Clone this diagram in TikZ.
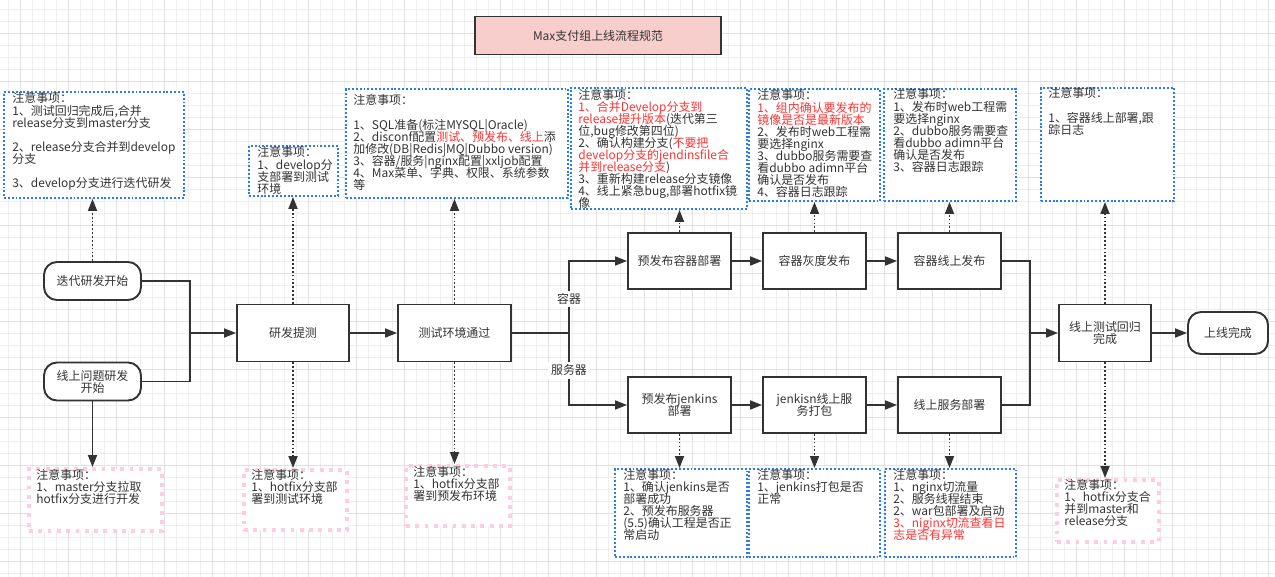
\documentclass[tikz,border=0pt]{standalone}
\usepackage{fontspec}
\setmainfont{Noto Sans CJK SC}
\usetikzlibrary{arrows.meta,positioning}
\setlength{\lineskiplimit}{-5pt}
\definecolor{mxGrey}  {RGB}{ 51, 51, 51}
\definecolor{mxText}  {RGB}{ 51, 51, 51}
\definecolor{mxRed}   {RGB}{255, 51, 51}
\definecolor{mxBlue}  {RGB}{ 45,125,230}
\definecolor{mxPink}  {RGB}{255,204,228}
\definecolor{mxTitle} {RGB}{248,206,204}
\definecolor{mxGridL} {RGB}{238,238,238}
\definecolor{mxGridD} {RGB}{224,224,224}

\begin{document}
\begin{tikzpicture}[
  every node/.style={font=\fontsize{6.8}{6.85}\selectfont,text=mxText},
  >={Triangle[length=2.4mm,width=1.8mm]},
  proc/.style ={draw=mxGrey,fill=white,line width=1.1pt,align=center,
               minimum width=2.06cm,minimum height=1.12cm},
  term/.style ={draw=mxGrey,fill=white,line width=1.1pt,align=center,
               rounded corners=0.26cm,minimum width=1.94cm,minimum height=0.76cm},
  hd/.style   ={draw=mxGrey,fill=mxTitle,line width=1.1pt,
               minimum width=4.92cm,minimum height=0.76cm},
  bnote/.style={draw=mxBlue,fill=white,line width=1.1pt,
               dash pattern=on 1.1pt off 1.1pt,anchor=north west,inner sep=0pt},
  pnote/.style={draw=mxPink,fill=white,line width=2.2pt,
               dash pattern=on 2.2pt off 3.1pt,anchor=north west,inner sep=0pt},
  ntxt/.style ={align=left,inner sep=0pt},
  lbl/.style  ={fill=white,inner sep=1.5pt},
  flow/.style ={->,line width=1pt,mxGrey},
  wire/.style ={line width=1pt,mxGrey},
  dots/.style ={->,line width=1pt,mxGrey,dash pattern=on 1pt off 1.2pt}
]
\useasboundingbox (0,0) rectangle (25.5,-11.52);
% background grid
\begin{scope}
  \clip (0,0) rectangle (25.5,-11.52);
  \draw[mxGridL,line width=0.5pt,step=0.24,shift={(0.174,-0.186)}] (-0.48,0.48) grid (25.6,-11.8);
  \draw[mxGridD,line width=0.5pt,step=0.96,shift={(0.414,-0.666)}] (-0.96,0.96) grid (25.6,-11.8);
\end{scope}

\node[hd] (title) at (11.96,-0.71) {Max支付组上线流程规范};

% flow nodes
\node[term] (st1) at (1.85,-5.62) {迭代研发开始};
\node[term] (st2) at (1.85,-7.63) {线上问题研发\\开始};
\node[proc,minimum width=2.24cm,minimum height=1.14cm] (dev) at (5.86,-6.66) {研发提测};
\node[proc,minimum width=2.26cm,minimum height=1.14cm] (tst) at (9.09,-6.66) {测试环境通过};
\node[proc] (pre)   at (13.59,-5.22) {预发布容器部署};
\node[proc] (gdep)  at (16.29,-5.22) {容器灰度发布};
\node[proc] (prod)  at (18.99,-5.22) {容器线上发布};
\node[proc] (jpre)  at (13.59,-8.10) {预发布jenkins\\部署};
\node[proc] (jpkg)  at (16.29,-8.10) {jenkisn线上服\\务打包};
\node[proc] (jprod) at (18.99,-8.10) {线上服务部署};
\node[proc,minimum width=1.84cm,minimum height=1.14cm] (reg) at (22.10,-6.66) {线上测试回归\\完成};
\node[term,minimum width=1.6cm,minimum height=0.84cm] (fin) at (24.56,-6.66) {上线完成};

% notes, top row
\node[bnote,minimum width=3.60cm,minimum height=2.12cm] (N1) at (0.06,-1.82) {};
\node[bnote,minimum width=1.78cm,minimum height=1.00cm] (N2) at (4.96,-2.90) {};
\node[bnote,minimum width=4.44cm,minimum height=2.18cm] (N3) at (6.90,-1.76) {};
\node[bnote,minimum width=3.52cm,minimum height=2.42cm] (N4) at (11.40,-1.74) {};
\node[bnote,minimum width=2.62cm,minimum height=2.24cm] (N5) at (14.96,-1.76) {};
\node[bnote,minimum width=2.64cm,minimum height=2.24cm] (N6) at (17.66,-1.76) {};
\node[bnote,minimum width=2.66cm,minimum height=2.26cm] (N7) at (20.80,-1.74) {};

\node[ntxt,below right=0.03cm and 0.18cm of N1.north west] (t1) {注意事项：\\1、测试回归完成后,合并\\release分支到master分支\\[6.85pt]2、release分支合并到develop\\分支\\[6.85pt]3、develop分支进行迭代研发};
\node[ntxt,below right=0.03cm and 0.18cm of N2.north west] (t2) {注意事项：\\1、develop分\\支部署到测试\\环境};
\node[ntxt,below right=0.13cm and 0.16cm of N3.north west] (t3) {注意事项：\\[6.85pt]1、SQL准备(标注MYSQL|Oracle)\\2、disconf配置\textcolor{mxRed}{测试、预发布、线上}添\\加修改(DB|Redis|MQ|Dubbo version)\\3、容器/服务|nginx配置|xxljob配置\\4、Max菜单、字典、权限、系统参数\\等};
\node[ntxt,below right=0.04cm and 0.16cm of N4.north west] (t4) {注意事项：\\\textcolor{mxRed}{1、合并Develop分支到}\\\textcolor{mxRed}{release提升版本}(迭代第三\\位,bug修改第四位)\\2、确认构建分支(\textcolor{mxRed}{不要把}\\\textcolor{mxRed}{develop分支的jendinsfile合}\\\textcolor{mxRed}{并到release分支})\\3、重新构建release分支镜像\\4、线上紧急bug,部署hotfix镜\\像};
\node[ntxt,below right=0.03cm and 0.18cm of N5.north west] (t5) {注意事项：\\\textcolor{mxRed}{1、组内确认要发布的}\\\textcolor{mxRed}{镜像是否是最新版本}\\2、发布时web工程需\\要选择nginx\\3、dubbo服务需要查\\看dubbo adimn平台\\确认是否发布\\4、容器日志跟踪};
\node[ntxt,below right=0.01cm and 0.20cm of N6.north west] (t6) {注意事项：\\1、发布时web工程需\\要选择nginx\\2、dubbo服务需要查\\看dubbo adimn平台\\确认是否发布\\3、容器日志跟踪};
\node[ntxt,below right=0.01cm and 0.16cm of N7.north west] (t7) {注意事项：\\[6.85pt]1、容器线上部署,跟\\踪日志};

% notes, bottom row
\node[pnote,minimum width=2.66cm,minimum height=1.24cm] (B1) at (0.54,-9.34) {};
\node[pnote,minimum width=2.06cm,minimum height=1.20cm] (B2) at (4.84,-9.36) {};
\node[pnote,minimum width=2.08cm,minimum height=1.20cm] (B3) at (8.08,-9.28) {};
\node[bnote,minimum width=2.64cm,minimum height=1.76cm] (B4) at (12.28,-9.36) {};
\node[bnote,minimum width=2.62cm,minimum height=1.76cm] (B5) at (14.96,-9.36) {};
\node[bnote,minimum width=2.62cm,minimum height=1.76cm] (B6) at (17.68,-9.36) {};
\node[pnote,minimum width=2.04cm,minimum height=1.24cm] (B7) at (21.10,-9.56) {};

\node[ntxt,below right=0.03cm and 0.18cm of B1.north west] (u1) {注意事项：\\1、master分支拉取\\hotfix分支进行开发};
\node[ntxt,below right=0.02cm and 0.18cm of B2.north west] (u2) {注意事项：\\1、hotfix分支部\\署到测试环境};
\node[ntxt,below right=0.03cm and 0.18cm of B3.north west] (u3) {注意事项：\\1、hotfix分支部\\署到预发布环境};
\node[ntxt,below right=0.01cm and 0.18cm of B4.north west] (u4) {注意事项：\\1、确认jenkins是否\\部署成功\\2、预发布服务器\\(5.5)确认工程是否正\\常启动};
\node[ntxt,below right=0.01cm and 0.18cm of B5.north west] (u5) {注意事项：\\1、jenkins打包是否\\正常};
\node[ntxt,below right=0.01cm and 0.18cm of B6.north west] (u6) {注意事项：\\1、nginx切流量\\2、服务线程结束\\2、war包部署及启动\\\textcolor{mxRed}{3、niginx切流查看日}\\\textcolor{mxRed}{志是否有异常}};
\node[ntxt,below right=0.02cm and 0.18cm of B7.north west] (u7) {注意事项：\\1、hotfix分支合\\并到master和\\release分支};

% connectors
\coordinate (jl) at (3.8,-6.66);
\coordinate (jc) at (11.38,-6.66);
\coordinate (jr) at (20.6,-6.66);
\draw[wire] (st1.east) -| (jl);
\draw[wire] (st2.east) -| (jl);
\draw[flow] (jl) -- (dev.west);
\draw[flow] (dev) -- (tst);
\draw[wire] (tst.east) -- (jc);
\draw[flow] (jc) |- node[lbl,pos=0.236] {容器} (pre.west);
\draw[flow] (jc) |- node[lbl,pos=0.26] {服务器} (jpre.west);
\draw[flow] (pre) -- (gdep);
\draw[flow] (gdep) -- (prod);
\draw[flow] (jpre) -- (jpkg);
\draw[flow] (jpkg) -- (jprod);
\draw[wire] (prod.east) -| (jr);
\draw[wire] (jprod.east) -| (jr);
\draw[flow] (jr) -- (reg.west);
\draw[flow] (reg) -- (fin);

\draw[dots] (st1.north) -- (st1.north |- N1.south);
\draw[flow] (st2.south) -- (st2.south |- B1.north);
\draw[dots] (dev.north) -- (dev.north |- N2.south);
\draw[dots] (dev.south) -- (dev.south |- B2.north);
\draw[dots] (tst.north) -- (tst.north |- N3.south);
\draw[dots] (tst.south) -- (tst.south |- B3.north);
\foreach \p/\n in {pre/N4,gdep/N5,prod/N6,reg/N7}
  \draw[dots] (\p.north) -- (\p.north |- \n.south);
\foreach \p/\n in {jpre/B4,jpkg/B5,jprod/B6,reg/B7}
  \draw[dots] (\p.south) -- (\p.south |- \n.north);
\end{tikzpicture}
\end{document}
